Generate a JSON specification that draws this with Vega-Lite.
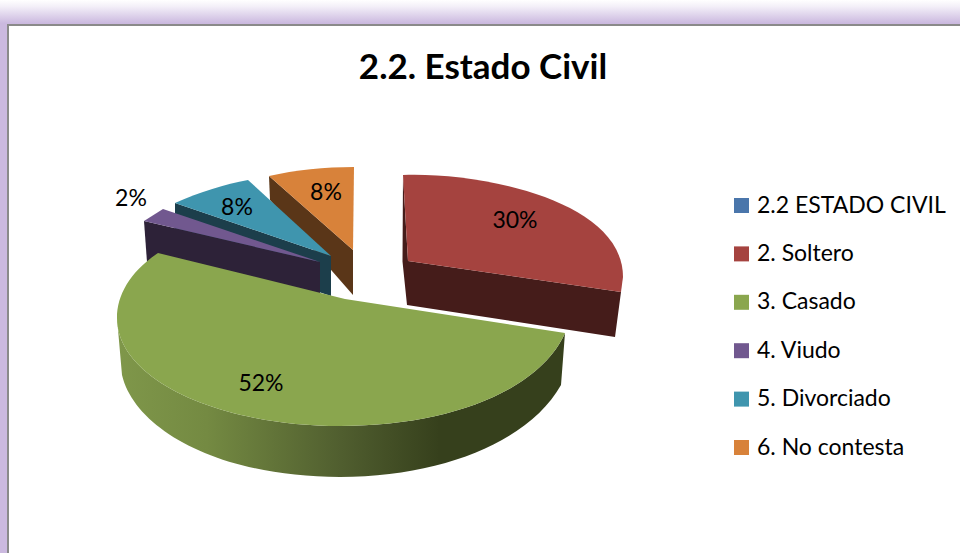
{
"$schema":"https://vega.github.io/schema/vega-lite/v6.json",
"width":960,"height":553,"padding":0,
"autosize":{"type":"fit","contains":"padding"},
"background":"#ffffff",
"config":{"view":{"stroke":null}},
"title":{"text":"2.2. Estado Civil","orient":"top","anchor":"middle","offset":-86,"dx":3,"font":"Lato","fontWeight":"bold","fontSize":35,"color":"#000000"},
"data":{"values":[
{"categoria":"2. Soltero","porcentaje":0.30},
{"categoria":"6. No contesta","porcentaje":0.08},
{"categoria":"5. Divorciado","porcentaje":0.08},
{"categoria":"4. Viudo","porcentaje":0.02},
{"categoria":"3. Casado","porcentaje":0.52}
]},
"resolve":{"scale":{"shape":"independent","color":"independent"}},
"layer":[
{"data":{"values":[{"parte":"fondo"}]},
 "mark":{"type":"rect","fill":{"gradient":"linear","x1":0,"y1":0,"x2":0,"y2":1,"stops":[{"offset":0,"color":"#ffffff"},{"offset":0.012,"color":"#f3eff8"},{"offset":0.042,"color":"#cbb9df"},{"offset":1,"color":"#cbb9df"}]}},
 "encoding":{}},
{"data":{"values":[{"parte":"panel"}]},
 "mark":{"type":"point","clip":true,"filled":true,"size":4,"fill":"#ffffff","stroke":"#8a8a8a","strokeWidth":2,"opacity":1,"shape":"M-472,-251.5L482,-251.5L482,278.5L-472,278.5Z"},
 "encoding":{}},
{"transform":[{"filter":"datum.categoria !== '3. Casado'"}],
 "mark":{"type":"point","filled":true,"size":4,"opacity":1,"strokeWidth":0},
 "encoding":{
  "shape":{"field":"categoria","type":"nominal","legend":null,"scale":{"domain":["2. Soltero","6. No contesta","5. Divorciado","4. Viudo"],"range":[
   "M-72,-15.5L141,15.5L135,60.5L-73,28.5L-77.5,-15L-77,-101.5Z",
   "M-211,-100.5L-127,-26.5L-127,18.5L-210,-76.5Z",
   "M-305,-73.5L-149,-20.5L-149,19.5L-305,-31.5Z",
   "M-336,-55.5L-160,-14.5L-160,19.5L-333,-14.5Z"]}},
  "color":{"field":"categoria","type":"nominal","legend":null,"scale":{"domain":["2. Soltero","6. No contesta","5. Divorciado","4. Viudo"],"range":["#451c1a","#5a3618","#1c3e4b","#2d2238"]}}
 }},
{"transform":[{"filter":"datum.categoria === '3. Casado'"}],
 "mark":{"type":"point","filled":true,"size":4,"opacity":1,"strokeWidth":0,
  "fill":{"gradient":"linear","x1":0,"y1":0,"x2":1,"y2":0,"stops":[{"offset":0,"color":"#7f974a"},{"offset":0.2,"color":"#748a42"},{"offset":0.5,"color":"#505e2f"},{"offset":0.72,"color":"#36401c"},{"offset":1,"color":"#36401c"}]},
  "shape":"M-363,41.5C-363,103.5,-260,149.5,-140,149.5C-30,149.5,60,113.5,85,56.5L81,108.5C50,163.5,-35,200.5,-140,200.5C-260,200.5,-345,153.5,-358,98.5Z"},
 "encoding":{}},
{"mark":{"type":"point","filled":true,"size":4,"opacity":1,"strokeWidth":0},
 "encoding":{
  "shape":{"field":"categoria","type":"nominal","legend":null,"scale":{"domain":["2. Soltero","6. No contesta","5. Divorciado","4. Viudo","3. Casado"],"range":[
   "M-77,-101.5C0,-104.5,143,-76.5,143,0.5L141,15.5L-72,-15.5Z",
   "M-211,-100.5C-185,-106.5,-155,-109.5,-126,-109.5L-127,-26.5Z",
   "M-305,-73.5C-280,-84.5,-255,-92.5,-232,-96.5L-149,-20.5Z",
   "M-317,-67.5L-336,-55.5L-160,-14.5Z",
   "M-135,22.5L-322,-23.5C-350,-4.5,-363,18.5,-363,41.5C-363,103.5,-260,149.5,-140,149.5C-30,149.5,60,113.5,85,56.5Z"]}},
  "color":{"field":"categoria","type":"nominal",
   "scale":{"domain":["2.2 ESTADO CIVIL","2. Soltero","3. Casado","4. Viudo","5. Divorciado","6. No contesta"],"range":["#4a76ab","#a5433f","#8aa64e","#71588f","#3f95ae","#d8823a"]},
   "legend":{"title":null,"orient":"none","legendX":730,"legendY":194,"symbolType":"square","symbolSize":225,"symbolStrokeWidth":0,"labelFont":"Lato","labelFontSize":23,"labelColor":"#000000","labelOffset":4,"rowPadding":24.4,"labelLimit":300}}
 }},
{"transform":[{"filter":"datum.categoria === '2. Soltero'"}],"mark":{"type":"text","font":"Lato","fontSize":23,"color":"#000000","dx":35,"dy":-56},"encoding":{"text":{"field":"porcentaje","type":"quantitative","format":".0%"}}},
{"transform":[{"filter":"datum.categoria === '6. No contesta'"}],"mark":{"type":"text","font":"Lato","fontSize":23,"color":"#000000","dx":-154,"dy":-84},"encoding":{"text":{"field":"porcentaje","type":"quantitative","format":".0%"}}},
{"transform":[{"filter":"datum.categoria === '5. Divorciado'"}],"mark":{"type":"text","font":"Lato","fontSize":23,"color":"#000000","dx":-243,"dy":-69},"encoding":{"text":{"field":"porcentaje","type":"quantitative","format":".0%"}}},
{"transform":[{"filter":"datum.categoria === '4. Viudo'"}],"mark":{"type":"text","font":"Lato","fontSize":23,"color":"#000000","dx":-349,"dy":-78},"encoding":{"text":{"field":"porcentaje","type":"quantitative","format":".0%"}}},
{"transform":[{"filter":"datum.categoria === '3. Casado'"}],"mark":{"type":"text","font":"Lato","fontSize":23,"color":"#000000","dx":-219,"dy":107},"encoding":{"text":{"field":"porcentaje","type":"quantitative","format":".0%"}}}
]
}
